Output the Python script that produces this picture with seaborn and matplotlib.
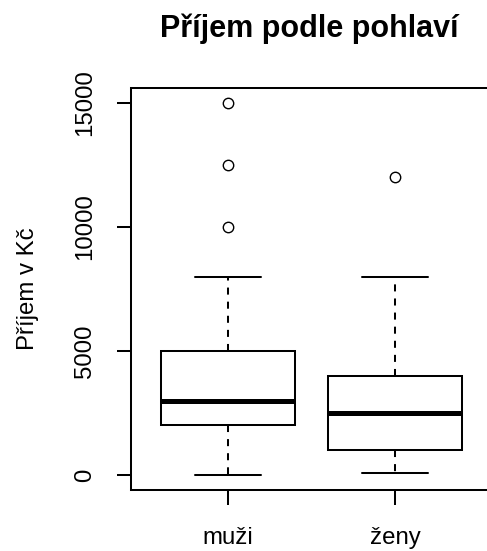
import matplotlib
matplotlib.use("Agg")
import matplotlib.pyplot as plt
import seaborn as sns
import pandas as pd

# Data (values chosen so that quartiles/whiskers/outliers match the chart)
groups = ["muži", "ženy"]
income_men = [0, 1000, 1500, 2000, 2000, 2500, 3000, 3000, 3000, 3500,
              4000, 5000, 5000, 8000, 10000, 12500, 15000]
income_women = [100, 500, 1000, 1000, 1000, 1500, 2000, 2500, 2500, 3000,
                3500, 4000, 4000, 5000, 6000, 8000, 12000]
yticks = [0, 5000, 10000, 15000]
ytick_labels = ["0", "5000", "10000", "15000"]
title = "Příjem podle pohlaví"
ylabel = "Příjem v Kč"

df = pd.DataFrame({
    "pohlavi": [groups[0]] * len(income_men) + [groups[1]] * len(income_women),
    "prijem": income_men + income_women,
})

sns.set_style("white")
plt.rcParams["font.family"] = ["Liberation Sans", "DejaVu Sans"]
plt.rcParams["text.color"] = "black"
plt.rcParams["xtick.color"] = "black"
plt.rcParams["ytick.color"] = "black"
plt.rcParams["axes.labelcolor"] = "black"

W, H = 487, 551
fig = plt.figure(figsize=(W / 100, H / 100), dpi=100)
ax = fig.add_axes([131 / W, (H - 490) / H, 361 / W, 402 / H])

lw = 1.45
sns.boxplot(data=df, x="pohlavi", y="prijem", order=groups, ax=ax,
            color="white", saturation=1, linecolor="black", linewidth=lw,
            width=0.8, whis=1.5, fliersize=7.5,
            medianprops={"linewidth": 3.6, "color": "black"},
            whiskerprops={"linestyle": (0, (3.5, 3.5)), "linewidth": lw},
            flierprops={"marker": "o", "markerfacecolor": "none",
                        "markeredgecolor": "black", "markeredgewidth": 1.0})

ax.set_xlim(-0.58, 1.58)
ax.set_ylim(-600, 15600)
ax.set_yticks(yticks)
ax.set_yticklabels(ytick_labels)
ax.set_xlabel("")
ax.set_ylabel("")

for s in ax.spines.values():
    s.set_visible(True)
    s.set_color("black")
    s.set_linewidth(lw)

ax.tick_params(axis="y", direction="out", length=10, width=lw, color="black",
               labelcolor="black", pad=23, labelsize=17.3, left=True)
ax.tick_params(axis="x", direction="out", length=10.5, width=lw, color="black",
               labelcolor="black", pad=16, labelsize=17.3, bottom=True)
for t in ax.get_yticklabels():
    t.set_rotation(90)
    t.set_ha("center")
    t.set_va("center")

fig.text(309 / W, (H - 37) / H, title, ha="center", va="baseline",
         fontsize=22, fontweight="bold", color="black")
fig.text(28 / W, (H - 289) / H, ylabel, ha="center", va="center",
         rotation=90, fontsize=17.3, color="black")

fig.savefig("out.png", dpi=100, facecolor="white")
